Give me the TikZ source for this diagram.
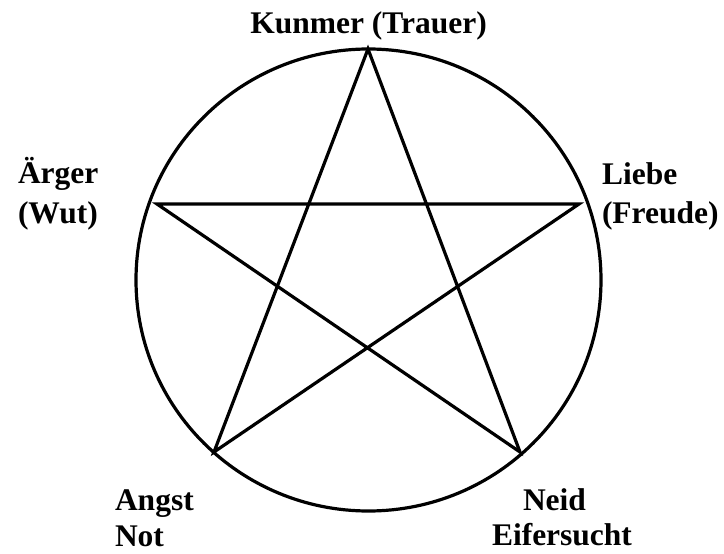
\documentclass[tikz,border=0pt]{standalone}
\usepackage{fontspec}
\setmainfont{Liberation Serif}
\usetikzlibrary{shapes.geometric}
\begin{document}
\begin{tikzpicture}[x=1pt,y=-1pt,
  lab/.style={inner sep=0pt,outer sep=0pt,anchor=base west,font=\bfseries\fontsize{31.5}{36}\selectfont},
  stroke/.style={line width=3.2pt,black}]
\useasboundingbox (0,0) rectangle (724,554);
% ellipse
\node[draw,stroke,ellipse,inner sep=0pt,outer sep=0pt,minimum width=465pt,minimum height=462pt] (ring) at (368.5,280) {};
% star points
\coordinate (T) at (368,49);
\coordinate (L) at (157,204);
\coordinate (R) at (579,204);
\coordinate (BL) at (214,452);
\coordinate (BR) at (520,452);
\draw[stroke,line join=miter] (T) -- (BL) -- (R) -- (L) -- (BR) -- cycle;
% labels
\node[lab,anchor=base] (kunmer) at (368.5,33) {Kunmer (Trauer)};
\node[lab] (aerger) at (18,183) {Ärger};
\node[lab] (wut) at (18,223) {(Wut)};
\node[lab] (liebe) at (602,184) {Liebe};
\node[lab] (freude) at (602,223) {(Freude)};
\node[lab] (angst) at (115,510) {Angst};
\node[lab] (not) at (115,546) {Not};
\node[lab] (neid) at (523,510) {Neid};
\node[lab] (eifer) at (492,545) {Eifersucht};
\end{tikzpicture}
\end{document}
